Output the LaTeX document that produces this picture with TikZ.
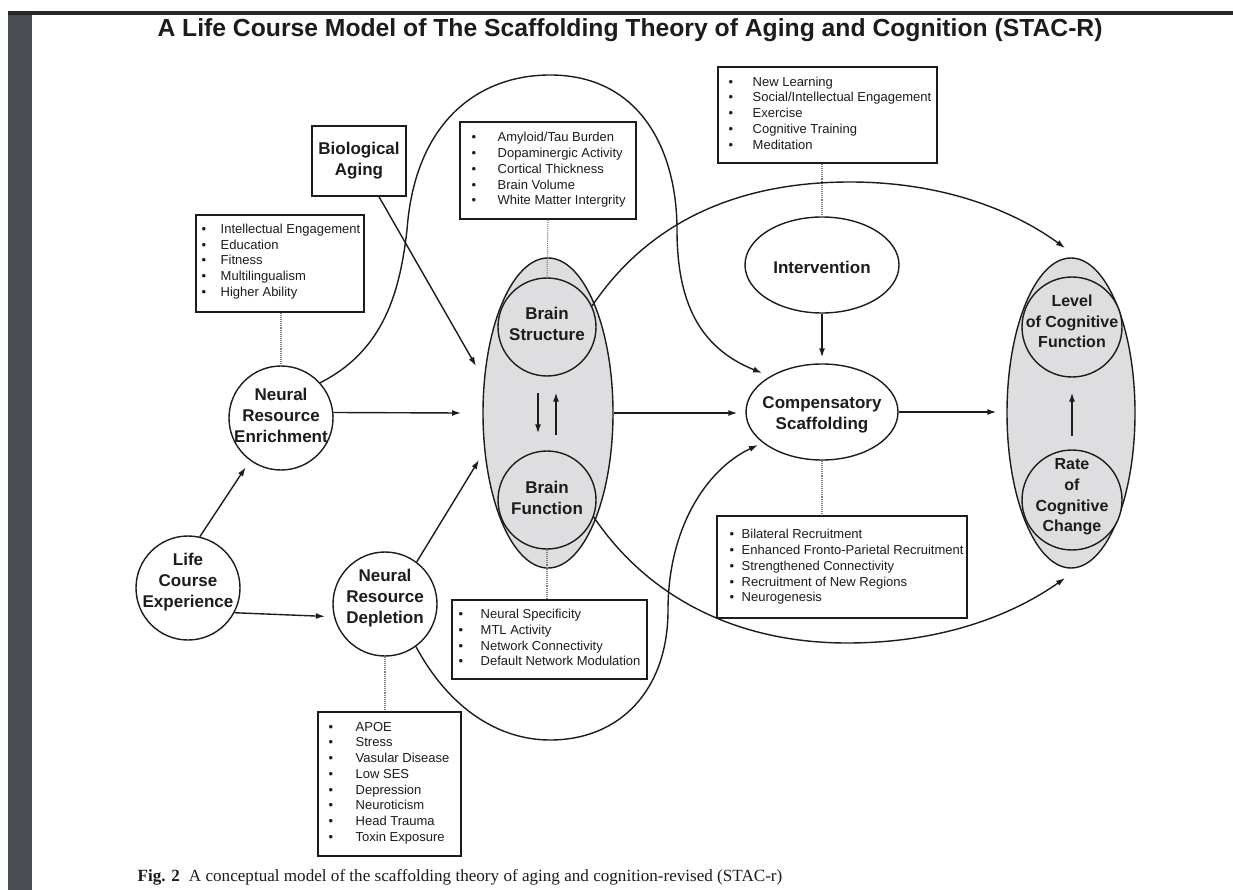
\documentclass[tikz,border=0pt]{standalone}
\usepackage{fontspec}
\setmainfont{Liberation Serif}
\newfontfamily\arialf{Liberation Sans}
\usetikzlibrary{arrows.meta,shapes.geometric}
\definecolor{barc}{RGB}{74,77,82}
\definecolor{linec}{RGB}{40,40,40}
\definecolor{gfill}{RGB}{222,222,224}
\definecolor{ink}{RGB}{28,28,28}
\newcommand{\bul}[1]{\makebox[#1][l]{\textbullet}}
\tikzset{
  lab/.style={font=\arialf\bfseries\fontsize{17}{21}\selectfont, align=center, inner sep=0},
  labs/.style={font=\arialf\bfseries\fontsize{16}{20.7}\selectfont, align=center, inner sep=0},
  wcirc/.style={circle, draw, minimum size=104pt, inner sep=0},
  gcirc/.style={circle, draw, fill=gfill, minimum size=98pt, inner sep=0},
  bigell/.style={ellipse, draw, fill=gfill, minimum width=130pt, minimum height=310pt, inner sep=0},
  wellipse/.style={ellipse, draw, minimum width=152pt, minimum height=96pt, inner sep=0},
  ibox/.style={draw, rectangle, inner sep=0, line width=1.5pt},
  ilist/.style={font=\arialf\fontsize{13}{15.7}\selectfont, align=left, anchor=west, inner sep=0},
  arr/.style={-{Latex[length=9pt,width=6pt]}},
  dotline/.style={densely dotted, draw=gray, line width=1.1pt},
}
\begin{document}
\begin{tikzpicture}[x=1pt, y=-1pt, line width=1.4pt, color=ink]
\useasboundingbox (0,0) rectangle (1233,890);
\fill[white] (0,0) rectangle (1233,890);
\fill[barc] (8,11) rectangle (32,890);
\fill[linec] (8,11) rectangle (1233,15);

% title and caption
\node[font=\arialf\bfseries\fontsize{24.7}{30}\selectfont, anchor=base, inner sep=0] (title) at (630,37)
  {A Life Course Model of The Scaffolding Theory of Aging and Cognition (STAC-R)};
\node[font=\fontsize{17.1}{20}\selectfont, anchor=base west, inner sep=0] (cap) at (137,881)
  {\textbf{Fig. 2}\hspace{9pt}A conceptual model of the scaffolding theory of aging and cognition-revised (STAC-r)};

% gray groups
\node[bigell] (brain) at (548,413) {};
\node[gcirc] (bstruct) at (547,327) {};
\node[gcirc] (bfunc) at (547,500) {};
\node[lab] (bstructT) at (547,323.5) {Brain\\Structure};
\node[lab] (bfuncT) at (547,497.5) {Brain\\Function};

\node[bigell, minimum width=128pt] (cog) at (1071,413) {};
\node[gcirc, minimum size=100pt] (level) at (1072,327) {};
\node[gcirc, minimum size=100pt] (rate) at (1072,500) {};
\node[labs] (levelT) at (1072,321.5) {Level\\of Cognitive\\Function};
\node[labs] (rateT) at (1072,497) {Rate\\of\\Cognitive\\Change};

% white circles / ellipses
\node[wcirc] (enrich) at (281,418) {};
\node[lab] (enrichT) at (281,415) {Neural\\Resource\\Enrichment};
\node[wcirc] (life) at (188,588) {};
\node[lab] (lifeT) at (188,582) {Life\\Course\\Experience};
\node[wcirc] (dep) at (385,604) {};
\node[lab] (depT) at (385,598) {Neural\\Resource\\Depletion};
\node[wellipse, minimum width=154pt] (inter) at (822,265) {};
\node[lab] (interT) at (822,267) {Intervention};
\node[wellipse] (comp) at (822,412) {};
\node[lab] (compT) at (822,415) {Compensatory\\Scaffolding};

% boxes
\node[ibox, lab, minimum width=94pt, minimum height=70pt] (bio) at (359,161) {Biological\\Aging};

\node[ibox, minimum width=168pt, minimum height=97pt] (intel) at (280,263.5) {};
\node[ilist] (intelL) at (201,261.5) {\bul{19pt}Intellectual Engagement\\\bul{19pt}Education\\\bul{19pt}Fitness\\\bul{19pt}Multilingualism\\\bul{19pt}Higher Ability};

\node[ibox, minimum width=176pt, minimum height=97pt] (amy) at (548,170.5) {};
\node[ilist] (amyL) at (471,170) {\bul{26pt}Amyloid/Tau Burden\\\bul{26pt}Dopaminergic Activity\\\bul{26pt}Cortical Thickness\\\bul{26pt}Brain Volume\\\bul{26pt}White Matter Intergrity};

\node[ibox, minimum width=219pt, minimum height=96pt] (learn) at (827.5,115) {};
\node[ilist] (learnL) at (728,113) {\bul{24pt}New Learning\\\bul{24pt}Social/Intellectual Engagement\\\bul{24pt}Exercise\\\bul{24pt}Cognitive Training\\\bul{24pt}Meditation};

\node[ibox, minimum width=250pt, minimum height=102pt] (bilat) at (842,567) {};
\node[ilist] (bilatL) at (729,567) {\bul{12pt}Bilateral Recruitment\\\bul{12pt}Enhanced Fronto-Parietal Recruitment\\\bul{12pt}Strengthened Connectivity\\\bul{12pt}Recruitment of New Regions\\\bul{12pt}Neurogenesis};

\node[ibox, minimum width=195pt, minimum height=79pt] (nspec) at (549.5,639.5) {};
\node[ilist] (nspecL) at (458,637.5) {\bul{22pt}Neural Specificity\\\bul{22pt}MTL Activity\\\bul{22pt}Network Connectivity\\\bul{22pt}Default Network Modulation};

\node[ibox, minimum width=143pt, minimum height=144pt] (apoe) at (389.5,784) {};
\node[ilist] (apoeL) at (328,783) {\bul{27pt}APOE\\\bul{27pt}Stress\\\bul{27pt}Vasular Disease\\\bul{27pt}Low SES\\\bul{27pt}Depression\\\bul{27pt}Neuroticism\\\bul{27pt}Head Trauma\\\bul{27pt}Toxin Exposure};

% dotted links
\draw[dotline] (enrich.north |- intel.south) -- (enrich.north);
\draw[dotline] (amy.south) -- (bstruct.north);
\draw[dotline] (inter.north |- learn.south) -- (inter.north);
\draw[dotline] (comp.south) -- (comp.south |- bilat.north);
\draw[dotline] (bfunc.south) -- (bfunc.south |- nspec.north);
\draw[dotline] (dep.south) -- (dep.south |- apoe.north);

% free arrow ends
\coordinate (tEnr) at (461,413);
\coordinate (tDep) at (479,460);
\coordinate (tBio) at (476,366);
\coordinate (tC1) at (762,373);
\coordinate (tC2) at (1065,248);
\coordinate (tC3) at (1065,578);
\coordinate (tC4) at (758,445);

% straight arrows
\draw[arr] (enrich.6) -- (tEnr);
\draw[arr, shorten >=8pt] (life.77) -- (enrich.234);
\draw[arr, shorten >=9pt] (life.-28) -- (dep.194);
\draw[arr] (dep.53) -- (tDep);
\draw[arr] ([xshift=20pt]bio.south) -- (tBio);
\draw[arr, shorten >=8pt] (brain.east) -- (brain.east -| comp.west);
\draw[arr, shorten >=10pt] (comp.east) -- (comp.east -| cog.west);
\draw[arr, shorten >=6pt] (inter.south) -- (comp.north);
\draw[arr, shorten <=13pt, shorten >=15pt] (rate.north) -- (level.south);
\draw[arr, shorten <=16pt, shorten >=17pt] ([xshift=-9pt]bstruct.south) -- ([xshift=-9pt]bstruct.south |- bfunc.north);
\draw[arr, shorten <=15pt, shorten >=16pt] ([xshift=9pt]bfunc.north) -- ([xshift=9pt]bfunc.north |- bstruct.south);

% curved arrows
\draw[arr] (enrich.42) .. controls (385,350) and (400,290) .. (407,230)
  .. controls (415,120) and (480,75) .. (550,75)
  .. controls (640,75) and (677,150) .. (677,230)
  .. controls (677,310) and (705,350) .. (tC1);
\draw[arr] (bstruct.25) .. controls (650,220) and (740,182) .. (850,182)
  .. controls (950,182) and (1020,215) .. (tC2);
\draw[arr] (bfunc.-20) .. controls (650,600) and (740,643) .. (847,643)
  .. controls (950,643) and (1020,610) .. (tC3);
\draw[arr] (dep.-54) .. controls (450,710) and (500,740) .. (550,740)
  .. controls (620,740) and (668,690) .. (668,610)
  .. controls (668,530) and (705,470) .. (tC4);
\end{tikzpicture}
\end{document}
